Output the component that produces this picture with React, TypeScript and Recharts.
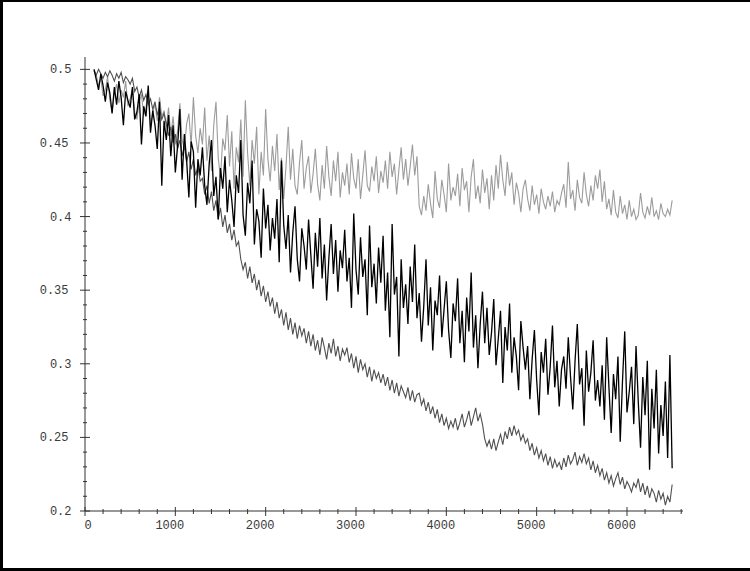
import React from 'react';
import { LineChart, Line, XAxis, YAxis } from 'recharts';

// x positions: sampled every 25 units starting at 100
const X_START = 100;
const X_STEP = 25;

// light gray series (plateaus near 0.41)
const lightGray: number[] = [
  0.500, 0.496, 0.489, 0.494, 0.482, 0.486, 0.495, 0.479, 0.471, 0.484, 0.490, 0.477, 0.486, 0.481, 0.492, 0.475,
  0.480, 0.487, 0.471, 0.466, 0.478, 0.483, 0.469, 0.474, 0.486, 0.462, 0.470, 0.477, 0.465, 0.481, 0.468, 0.472,
  0.461, 0.474, 0.455, 0.468, 0.449, 0.458, 0.477, 0.452, 0.446, 0.463, 0.470, 0.448, 0.481, 0.455, 0.443, 0.460,
  0.449, 0.474, 0.438, 0.455, 0.431, 0.462, 0.478, 0.440, 0.426, 0.453, 0.445, 0.469, 0.434, 0.458, 0.419, 0.447,
  0.437, 0.466, 0.427, 0.479, 0.443, 0.421, 0.452, 0.436, 0.461, 0.415, 0.444, 0.428, 0.473, 0.439, 0.424, 0.448,
  0.431, 0.456, 0.418, 0.440, 0.412, 0.434, 0.461, 0.425, 0.446, 0.421, 0.415, 0.437, 0.452, 0.419, 0.433, 0.441,
  0.416, 0.429, 0.446, 0.422, 0.411, 0.435, 0.419, 0.448, 0.427, 0.414, 0.438, 0.424, 0.444, 0.413, 0.430, 0.421,
  0.436, 0.415, 0.443, 0.426, 0.419, 0.439, 0.412, 0.428, 0.445, 0.421, 0.417, 0.434, 0.424, 0.441, 0.416, 0.431,
  0.423, 0.438, 0.419, 0.444, 0.427, 0.436, 0.415, 0.432, 0.447, 0.425, 0.439, 0.421, 0.434, 0.449, 0.428, 0.441,
  0.407, 0.401, 0.414, 0.404, 0.422, 0.409, 0.399, 0.431, 0.412, 0.406, 0.425, 0.415, 0.403, 0.436, 0.411, 0.420,
  0.414, 0.429, 0.407, 0.433, 0.418, 0.424, 0.403, 0.427, 0.439, 0.412, 0.421, 0.409, 0.432, 0.416, 0.426, 0.405,
  0.428, 0.411, 0.435, 0.419, 0.442, 0.425, 0.414, 0.437, 0.421, 0.430, 0.408, 0.423, 0.416, 0.403, 0.419, 0.425,
  0.412, 0.404, 0.421, 0.408, 0.415, 0.402, 0.419, 0.410, 0.405, 0.414, 0.407, 0.417, 0.403, 0.411, 0.408, 0.416,
  0.422, 0.406, 0.437, 0.412, 0.418, 0.404, 0.425, 0.413, 0.409, 0.430, 0.415, 0.407, 0.421, 0.411, 0.428, 0.419,
  0.432, 0.410, 0.424, 0.405, 0.412, 0.401, 0.418, 0.403, 0.399, 0.414, 0.402, 0.408, 0.398, 0.411, 0.400, 0.405,
  0.398, 0.401, 0.416, 0.403, 0.399, 0.407, 0.401, 0.413, 0.400, 0.404, 0.398, 0.409, 0.402, 0.400, 0.405, 0.401,
  0.411,
];

// black series (very noisy)
const black: number[] = [
  0.500, 0.493, 0.486, 0.497, 0.489, 0.478, 0.491, 0.484, 0.470, 0.488, 0.476, 0.492, 0.481, 0.462, 0.485, 0.479,
  0.474, 0.488, 0.466, 0.471, 0.483, 0.449, 0.475, 0.468, 0.489, 0.457, 0.472, 0.462, 0.446, 0.478, 0.421, 0.465,
  0.452, 0.469, 0.441, 0.462, 0.430, 0.448, 0.473, 0.425, 0.456, 0.438, 0.413, 0.451, 0.444, 0.406, 0.439, 0.428,
  0.447, 0.421, 0.408, 0.436, 0.452, 0.414, 0.427, 0.398, 0.433, 0.419, 0.441, 0.403, 0.425, 0.411, 0.393, 0.428,
  0.416, 0.452, 0.401, 0.387, 0.423, 0.409, 0.438, 0.381, 0.405, 0.397, 0.372, 0.419, 0.392, 0.408, 0.377, 0.399,
  0.385, 0.412, 0.369, 0.438, 0.394, 0.378, 0.401, 0.362, 0.389, 0.407, 0.371, 0.356, 0.392, 0.380, 0.364, 0.398,
  0.374, 0.351, 0.389, 0.366, 0.399, 0.358, 0.381, 0.343, 0.372, 0.395, 0.361, 0.384, 0.349, 0.377, 0.365, 0.391,
  0.356, 0.372, 0.338, 0.402, 0.364, 0.347, 0.386, 0.359, 0.371, 0.333, 0.394, 0.352, 0.368, 0.341, 0.379, 0.355,
  0.387, 0.336, 0.362, 0.318, 0.395, 0.347, 0.359, 0.305, 0.371, 0.338, 0.354, 0.327, 0.366, 0.342, 0.381, 0.331,
  0.348, 0.315, 0.339, 0.371, 0.326, 0.352, 0.309, 0.343, 0.333, 0.360, 0.318, 0.337, 0.356, 0.323, 0.304, 0.341,
  0.329, 0.358, 0.314, 0.336, 0.301, 0.345, 0.322, 0.362, 0.311, 0.333, 0.297, 0.327, 0.349, 0.314, 0.338, 0.306,
  0.321, 0.344, 0.299, 0.317, 0.336, 0.287, 0.325, 0.309, 0.341, 0.294, 0.318, 0.305, 0.282, 0.329, 0.311, 0.296,
  0.312, 0.276, 0.303, 0.323, 0.289, 0.265, 0.308, 0.294, 0.317, 0.279, 0.298, 0.326, 0.284, 0.302, 0.271, 0.296,
  0.305, 0.283, 0.318, 0.291, 0.269, 0.302, 0.327, 0.286, 0.297, 0.258, 0.309, 0.281, 0.294, 0.316, 0.275, 0.289,
  0.271, 0.299, 0.262, 0.318, 0.284, 0.253, 0.293, 0.276, 0.305, 0.247, 0.288, 0.322, 0.267, 0.281, 0.298, 0.259,
  0.312, 0.274, 0.243, 0.291, 0.265, 0.302, 0.228, 0.283, 0.256, 0.296, 0.239, 0.272, 0.251, 0.288, 0.236, 0.306,
  0.229,
];

// dark gray series (steady decline with jitter)
const darkGray: number[] = [
  0.499, 0.496, 0.500, 0.497, 0.494, 0.498, 0.495, 0.499, 0.496, 0.492, 0.497, 0.494, 0.498, 0.491, 0.495, 0.493,
  0.490, 0.494, 0.485, 0.488, 0.481, 0.486, 0.479, 0.483, 0.476, 0.480, 0.473, 0.478, 0.469, 0.474, 0.466, 0.470,
  0.463, 0.455, 0.461, 0.450, 0.456, 0.446, 0.452, 0.441, 0.448, 0.437, 0.444, 0.432, 0.439, 0.428, 0.434, 0.424,
  0.426, 0.415, 0.421, 0.409, 0.417, 0.404, 0.411, 0.398, 0.406, 0.393, 0.401, 0.389, 0.395, 0.384, 0.391, 0.380,
  0.383, 0.371, 0.364, 0.369, 0.358, 0.366, 0.355, 0.361, 0.350, 0.357, 0.346, 0.353, 0.342, 0.349, 0.339, 0.345,
  0.334, 0.342, 0.331, 0.337, 0.326, 0.335, 0.323, 0.331, 0.320, 0.328, 0.317, 0.326, 0.319, 0.324, 0.314, 0.322,
  0.312, 0.320, 0.309, 0.316, 0.306, 0.318, 0.311, 0.303, 0.314, 0.307, 0.317, 0.305, 0.312, 0.302, 0.310, 0.306,
  0.311, 0.301, 0.307, 0.297, 0.305, 0.294, 0.303, 0.296, 0.300, 0.291, 0.298, 0.288, 0.296, 0.290, 0.294, 0.287,
  0.293, 0.285, 0.291, 0.282, 0.289, 0.280, 0.287, 0.278, 0.285, 0.281, 0.277, 0.284, 0.275, 0.282, 0.274, 0.279,
  0.280, 0.272, 0.276, 0.268, 0.274, 0.266, 0.271, 0.263, 0.269, 0.260, 0.266, 0.258, 0.263, 0.256, 0.261, 0.257,
  0.263, 0.255, 0.260, 0.266, 0.257, 0.262, 0.268, 0.258, 0.264, 0.270, 0.261, 0.266, 0.259, 0.249, 0.244, 0.248,
  0.242, 0.249, 0.241, 0.247, 0.252, 0.245, 0.254, 0.249, 0.257, 0.251, 0.258, 0.252, 0.255, 0.248, 0.252, 0.246,
  0.249, 0.241, 0.246, 0.238, 0.243, 0.236, 0.241, 0.234, 0.239, 0.231, 0.237, 0.229, 0.235, 0.230, 0.233, 0.228,
  0.236, 0.230, 0.238, 0.232, 0.235, 0.240, 0.231, 0.237, 0.233, 0.239, 0.232, 0.236, 0.228, 0.234, 0.226, 0.231,
  0.224, 0.229, 0.221, 0.226, 0.219, 0.224, 0.217, 0.222, 0.226, 0.218, 0.223, 0.215, 0.220, 0.217, 0.213, 0.219,
  0.216, 0.222, 0.213, 0.219, 0.211, 0.217, 0.209, 0.215, 0.212, 0.206, 0.214, 0.208, 0.212, 0.204, 0.210, 0.206,
  0.218,
];

const xTicks: number[] = [
  0, 200, 400, 600, 800, 1000, 1200, 1400, 1600, 1800, 2000, 2200, 2400, 2600, 2800,
  3000, 3200, 3400, 3600, 3800, 4000, 4200, 4400, 4600, 4800, 5000, 5200, 5400, 5600,
  5800, 6000, 6200, 6400, 6600,
];
const xLabels: number[] = [0, 1000, 2000, 3000, 4000, 5000, 6000];

const yTicks: number[] = [
  0.2, 0.21, 0.22, 0.23, 0.24, 0.25, 0.26, 0.27, 0.28, 0.29, 0.3, 0.31, 0.32, 0.33,
  0.34, 0.35, 0.36, 0.37, 0.38, 0.39, 0.4, 0.41, 0.42, 0.43, 0.44, 0.45, 0.46, 0.47,
  0.48, 0.49, 0.5,
];
const yLabels: string[] = ['0.2', '0.25', '0.3', '0.35', '0.4', '0.45', '0.5'];

const data = black.map((b, i) => ({
  x: X_START + i * X_STEP,
  b,
  a: lightGray[i],
  c: darkGray[i],
}));

const FONT = '"Liberation Mono", "DejaVu Sans Mono", monospace';
const AXIS = '#333';
const TEXT = '#3a3a3a';

const XTick = (props: any) => {
  const { x, y, payload } = props;
  const v = payload.value as number;
  const major = xLabels.includes(v);
  return (
    <g>
      <line x1={x} x2={x} y1={major ? y - 4 : y - 2} y2={major ? y + 5 : y + 3} stroke={AXIS} strokeWidth={1} />
      {major && (
        <text
          x={x + (v === 0 ? 3 : -5.5)}
          y={y + 18}
          textAnchor="middle"
          fontFamily={FONT}
          fontSize={12}
          fill={TEXT}
        >
          {String(v)}
        </text>
      )}
    </g>
  );
};

const YTick = (props: any) => {
  const { x, y, payload } = props;
  const v = payload.value as number;
  const label = yLabels.find((l) => Math.abs(parseFloat(l) - v) < 1e-6);
  const major = label !== undefined;
  return (
    <g>
      <line x1={major ? x - 5 : x - 2} x2={major ? x + 5 : x + 2} y1={y} y2={y} stroke={AXIS} strokeWidth={1} />
      {major && (
        <text
          x={x - (label!.length === 3 ? 13.5 : 16.5)}
          y={y + 4}
          textAnchor="end"
          fontFamily={FONT}
          fontSize={12}
          fill={TEXT}
        >
          {label}
        </text>
      )}
    </g>
  );
};

export default function App() {
  return (
    <div style={{ position: 'absolute', left: 0, top: 0, width: 750, height: 571, background: '#fff' }}>
      <LineChart
        width={750}
        height={571}
        data={data}
        margin={{ top: 57, left: 0, right: 67, bottom: 0 }}
      >
        <XAxis
          type="number"
          dataKey="x"
          domain={[0, 6620]}
          ticks={xTicks}
          interval={0}
          height={60}
          tickSize={0}
          tickMargin={0}
          tickLine={false}
          axisLine={{ stroke: AXIS, strokeWidth: 1 }}
          tick={<XTick />}
          allowDataOverflow
        />
        <YAxis
          type="number"
          domain={[0.2, 0.5084]}
          ticks={yTicks}
          interval={0}
          width={85}
          tickSize={0}
          tickMargin={0}
          tickLine={false}
          axisLine={{ stroke: AXIS, strokeWidth: 1 }}
          tick={<YTick />}
          allowDataOverflow
        />
        <Line type="linear" dataKey="a" stroke="#9c9c9c" strokeWidth={1.1} dot={false} isAnimationActive={false} />
        <Line type="linear" dataKey="c" stroke="#505050" strokeWidth={1.1} dot={false} isAnimationActive={false} />
        <Line type="linear" dataKey="b" stroke="#000000" strokeWidth={1.3} dot={false} isAnimationActive={false} />
      </LineChart>
      <div
        style={{
          position: 'absolute',
          left: 0,
          top: 0,
          width: 750,
          height: 571,
          boxSizing: 'border-box',
          borderTop: '2px solid #000',
          borderLeft: '3px solid #000',
          borderBottom: '3px solid #000',
          pointerEvents: 'none',
        }}
      />
    </div>
  );
}
